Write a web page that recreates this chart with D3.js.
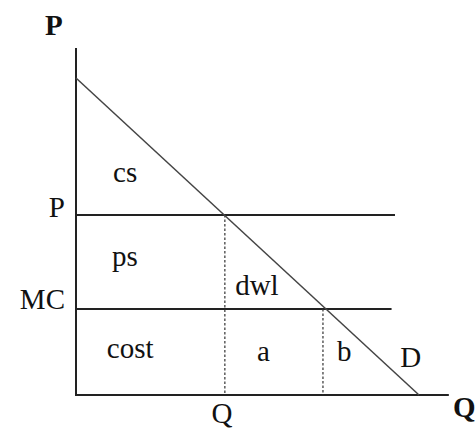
<!DOCTYPE html>
<html>
<head>
<meta charset="utf-8">
<script src="https://cdn.jsdelivr.net/npm/d3@7"></script>
<style>
  html, body { margin: 0; padding: 0; background: #fff; }
  svg { display: block; }
  text { font-family: "Liberation Serif", "Times New Roman", serif; fill: #111; }
</style>
</head>
<body>
<div id="chart"></div>
<script>
// ---- data (economic units) ----
const demandPoints = [[0, 10], [10, 0]];           // D line: (Q, P)
const priceNames = ["P", "MC"];
const priceValues = [5.68, 2.71];
const priceLineEnds = [9.3, 9.2];
const quantityValues = [4.34, 7.2];                 // dashed verticals
const quantityTops = [5.68, 2.71];
const axisMaxQ = 10.87;
const axisMaxP = 10.95;
const regionLabels = ["cs", "ps", "cost", "dwl", "a", "b", "D"];
const regionQ = [1.08, 1.05, 0.9, 4.64, 5.28, 7.61, 9.45];
const regionP = [6.72, 4.07, 1.17, 3.15, 1.07, 1.07, 0.88];
const axisTitles = ["P", "Q"];
const qTickLabels = ["Q"];

// ---- layout ----
const W = 476, H = 432;
const x = d3.scaleLinear().domain([0, 10]).range([76, 419]);
const y = d3.scaleLinear().domain([0, 10]).range([395, 78]);

const svg = d3.select("#chart").append("svg")
  .attr("width", W).attr("height", H);

const fs = 29;

// axes
svg.append("line")
  .attr("x1", x(0)).attr("y1", y(0)).attr("x2", x(0)).attr("y2", y(axisMaxP))
  .attr("stroke", "#222").attr("stroke-width", 2);
svg.append("line")
  .attr("x1", x(0) - 1).attr("y1", y(0)).attr("x2", x(axisMaxQ)).attr("y2", y(0))
  .attr("stroke", "#222").attr("stroke-width", 2);

// horizontal price lines
svg.selectAll("line.price").data(priceValues).enter().append("line")
  .attr("class", "price")
  .attr("x1", x(0)).attr("x2", (d, i) => x(priceLineEnds[i]))
  .attr("y1", d => y(d)).attr("y2", d => y(d))
  .attr("stroke", "#222").attr("stroke-width", 2);

// dashed quantity lines
svg.selectAll("line.qty").data(quantityValues).enter().append("line")
  .attr("class", "qty")
  .attr("x1", d => x(d)).attr("x2", d => x(d))
  .attr("y1", (d, i) => y(quantityTops[i])).attr("y2", y(0))
  .attr("stroke", "#333").attr("stroke-width", 1.2)
  .attr("stroke-dasharray", "2.5,2");

// demand line
svg.append("path")
  .datum(demandPoints)
  .attr("d", d3.line().x(d => x(d[0])).y(d => y(d[1])))
  .attr("fill", "none").attr("stroke", "#444").attr("stroke-width", 1.5);

// price labels on axis
svg.selectAll("text.plabel").data(priceNames).enter().append("text")
  .attr("class", "plabel")
  .attr("x", x(0) - 11)
  .attr("y", (d, i) => y(priceValues[i]) + (i === 0 ? 2 : 0))
  .attr("text-anchor", "end")
  .attr("font-size", fs)
  .text(d => d);

// quantity tick label
svg.selectAll("text.qlabel").data(qTickLabels).enter().append("text")
  .attr("class", "qlabel")
  .attr("x", x(quantityValues[0]) - 3)
  .attr("y", y(0) + 28)
  .attr("text-anchor", "middle")
  .attr("font-size", fs)
  .text(d => d);

// region labels
svg.selectAll("text.region").data(regionLabels).enter().append("text")
  .attr("class", "region")
  .attr("x", (d, i) => x(regionQ[i]))
  .attr("y", (d, i) => y(regionP[i]))
  .attr("font-size", fs)
  .text(d => d);

// axis titles (bold)
svg.append("text")
  .attr("x", 45).attr("y", 35)
  .attr("font-size", fs).attr("font-weight", "bold")
  .text(axisTitles[0]);
svg.append("text")
  .attr("x", 453).attr("y", 417)
  .attr("font-size", fs).attr("font-weight", "bold")
  .text(axisTitles[1]);
</script>
</body>
</html>
